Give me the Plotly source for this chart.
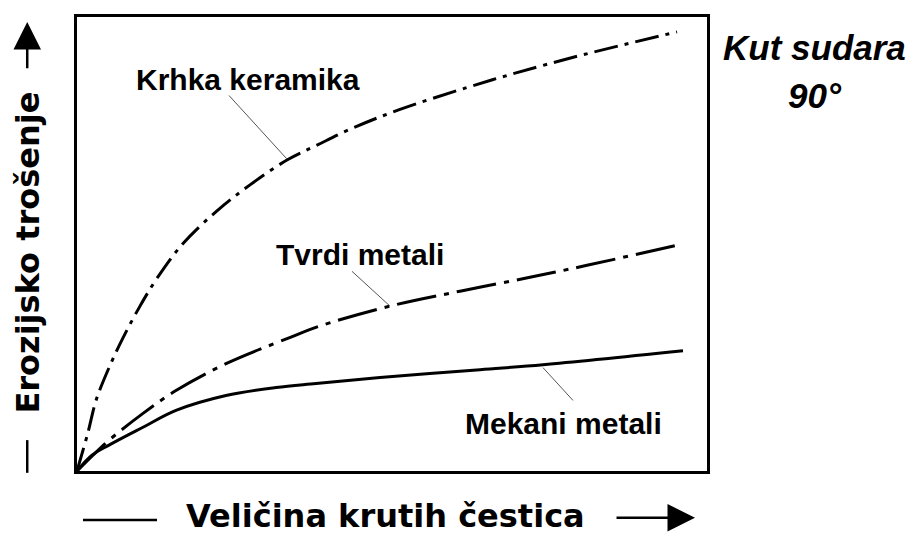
import plotly.graph_objects as go

# ---- data (arbitrary units, 0-100 on both axes) ----
x_keramika = [0, 1.75, 3.02, 5.08, 7.30, 10.0, 12.70, 16.83, 22.22, 27.46, 33.33, 38.10, 43.33, 51.27, 61.90, 69.84, 80.32, 95.24]
y_keramika = [0, 8.53, 15.54, 22.76, 29.32, 36.32, 42.45, 50.11, 57.30, 63.02, 68.49, 71.77, 75.27, 79.65, 84.46, 87.75, 91.68, 96.72]

x_tvrdi = [0, 2.54, 5.08, 10.48, 15.71, 23.65, 33.65, 38.57, 49.68, 60.79, 71.90, 80.95, 95.71]
y_tvrdi = [0, 3.50, 6.78, 12.69, 17.72, 23.63, 29.32, 31.95, 36.32, 39.61, 42.67, 45.30, 49.89]

x_mekani = [0, 2.38, 5.08, 10.48, 15.71, 23.65, 31.59, 37.94, 48.10, 63.97, 73.97, 96.19]
y_mekani = [0, 3.50, 5.69, 9.63, 13.35, 16.63, 18.38, 19.26, 20.57, 22.32, 23.41, 26.48]

labels = ["Krhka keramika", "Tvrdi metali", "Mekani metali"]
label_x = [27.14, 44.92, 77.30]
label_y = [86.21, 47.70, 10.50]
# leader lines: (x0, y0) -> (x1, y1)
leader_x0 = [24.13, 43.65, 78.73]
leader_y0 = [82.71, 43.98, 15.54]
leader_x1 = [33.33, 49.68, 73.97]
leader_y1 = [68.71, 36.32, 22.76]

x_title = "Veličina krutih čestica"
y_title = "Erozijsko trošenje"
side_title = ["Kut sudara", "90°"]

BOLD = "Liberation Sans, Arial"

fig = go.Figure()
fig.add_trace(go.Scatter(x=x_keramika, y=y_keramika, mode="lines",
                         line=dict(color="black", width=3, dash="24px,7px,4px,7px", shape="spline", smoothing=1.0),
                         name=labels[0], showlegend=False, hoverinfo="skip"))
fig.add_trace(go.Scatter(x=x_tvrdi, y=y_tvrdi, mode="lines",
                         line=dict(color="black", width=3, dash="40px,8px,5px,8px", shape="spline", smoothing=1.0),
                         name=labels[1], showlegend=False, hoverinfo="skip"))
fig.add_trace(go.Scatter(x=x_mekani, y=y_mekani, mode="lines",
                         line=dict(color="black", width=3, shape="spline", smoothing=1.0),
                         name=labels[2], showlegend=False, hoverinfo="skip"))

for i in range(3):
    fig.add_shape(type="line", xref="x", yref="y",
                  x0=leader_x0[i], y0=leader_y0[i], x1=leader_x1[i], y1=leader_y1[i],
                  line=dict(color="#555", width=1))
    fig.add_annotation(x=label_x[i], y=label_y[i], xref="x", yref="y", text=labels[i],
                       showarrow=False, xanchor="center", yanchor="middle",
                       font=dict(family=BOLD, size=30, color="black", weight="bold"))

# side title
fig.add_annotation(x=1.171, y=0.932, xref="paper", yref="paper", text=side_title[0], showarrow=False,
                   xanchor="center", yanchor="middle",
                   font=dict(family=BOLD, size=35, color="black", weight="bold", style="italic"))
fig.add_annotation(x=1.172, y=0.826, xref="paper", yref="paper", text=side_title[1], showarrow=False,
                   xanchor="center", yanchor="middle",
                   font=dict(family=BOLD, size=35, color="black", weight="bold", style="italic"))

# axis titles
fig.add_annotation(x=0.49, y=-0.0985, xref="paper", yref="paper", text=x_title, showarrow=False,
                   xanchor="center", yanchor="middle", borderpad=0,
                   font=dict(family="DejaVu Sans", size=32, color="black", weight="bold"))
fig.add_annotation(x=-0.0778, y=0.481, xref="paper", yref="paper", text=y_title, showarrow=False,
                   textangle=-90, xanchor="center", yanchor="middle", borderpad=0,
                   font=dict(family="DejaVu Sans", size=32, color="black", weight="bold"))

# dash + arrow decorations for axis titles
fig.add_shape(type="line", xref="paper", yref="paper", x0=0.0095, x1=0.127, y0=-0.108, y1=-0.108,
              line=dict(color="black", width=2.5))
fig.add_annotation(x=0.981, y=-0.103, xref="x domain", yref="y domain", ax=0.854, ay=-0.103,
                   axref="x domain", ayref="y domain", text="", showarrow=True,
                   arrowhead=2, arrowsize=2.2, arrowwidth=2.5, arrowcolor="black")
fig.add_shape(type="line", xref="paper", yref="paper", x0=-0.079, x1=-0.079, y0=-0.004, y1=0.068,
              line=dict(color="black", width=2.5))
fig.add_annotation(x=-0.079, y=0.989, xref="x domain", yref="y domain", ax=-0.079, ay=0.884,
                   axref="x domain", ayref="y domain", text="", showarrow=True,
                   arrowhead=2, arrowsize=2.2, arrowwidth=2.5, arrowcolor="black")

fig.update_xaxes(range=[0, 100], showline=True, mirror=True, linecolor="black", linewidth=2.5,
                 showgrid=False, zeroline=False, showticklabels=False, ticks="")
fig.update_yaxes(range=[0, 100], showline=True, mirror=True, linecolor="black", linewidth=2.5,
                 showgrid=False, zeroline=False, showticklabels=False, ticks="")

# page body has an 8px default margin, so the figure is shifted by 8px on screen
fig.update_layout(width=905, height=527, margin=dict(l=69, r=206, t=6, b=64),
                  paper_bgcolor="white", plot_bgcolor="white", showlegend=False)

fig.write_html("out.html")
